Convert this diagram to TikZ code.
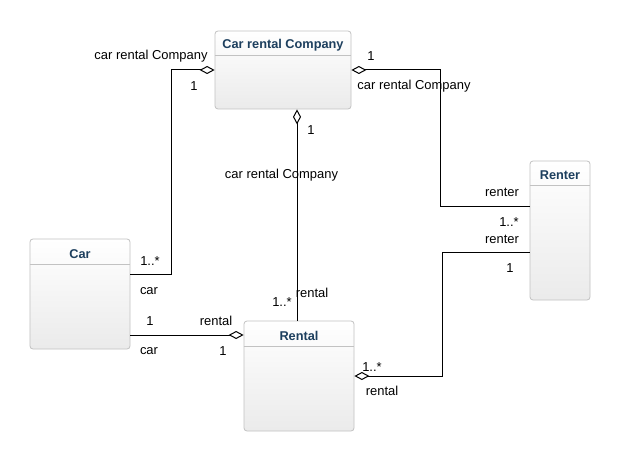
\documentclass[tikz,border=0pt]{standalone}
\usepackage{fontspec}
\setmainfont{Liberation Sans}
\usetikzlibrary{arrows.meta,positioning}
\definecolor{umlblue}{HTML}{1D3F5E}
\definecolor{umlborder}{HTML}{C2C2C2}
\tikzset{
  cls/.style={draw=umlborder, line width=0.8bp, rounded corners=3bp,
    top color=white, bottom color=gray!16, inner sep=0pt},
  clsname/.style={text=umlblue, font=\fontsize{12.8}{15}\selectfont\bfseries},
  role/.style={font=\fontsize{13}{15}\selectfont, inner sep=0pt},
  assoc/.style={line width=1bp},
  agg/.style={assoc, {Diamond[open, length=15bp, width=8bp, fill=white]}-},
}
\begin{document}
\begin{tikzpicture}[x=1bp, y=-1bp]
  \useasboundingbox[fill=white] (0,0) rectangle (620,461);

  % classes
  \node[cls, minimum width=136bp, minimum height=78bp] (company) at (283,70) {};
  \node[cls, minimum width=100bp, minimum height=110bp] (car) at (80,294) {};
  \node[cls, minimum width=110bp, minimum height=110bp] (rental) at (299,376) {};
  \node[cls, minimum width=60bp, minimum height=139bp] (renter) at (560,230.5) {};

  \draw[umlborder, line width=0.8bp] ([yshift=-25bp]company.north west) -- ([yshift=-25bp]company.north east);
  \draw[umlborder, line width=0.8bp] ([yshift=-26bp]car.north west) -- ([yshift=-26bp]car.north east);
  \draw[umlborder, line width=0.8bp] ([yshift=-26bp]rental.north west) -- ([yshift=-26bp]rental.north east);
  \draw[umlborder, line width=0.8bp] ([yshift=-25bp]renter.north west) -- ([yshift=-25bp]renter.north east);

  \node[clsname] (companyname) at (283,45) {Car rental Company};
  \node[clsname] (carname) at (80,254) {Car};
  \node[clsname] (rentalname) at (299,336) {Rental};
  \node[clsname] (rentername) at (560,175) {Renter};

  % associations
  \draw[agg] (company.west) -- ++(-43,0) |- ([yshift=19bp]car.east);
  \draw[agg] ([xshift=14bp]company.south) -- ([xshift=14bp]company.south |- rental.north);
  \draw[agg] (company.east) -- ++(89,0) |- ([yshift=24bp]renter.west);
  \draw[agg] ([yshift=41bp]rental.west) -- ([yshift=41bp]rental.west -| car.east);
  \draw[agg] (rental.east) -- ++(88,0) |- ([yshift=-22bp]renter.west);

  % roles and multiplicities
  \node[role] (r1) at (151,56) {car rental Company};
  \node[role] (m1) at (194,86) {1};
  \node[role] (m2) at (150,261) {1..*};
  \node[role] (r2) at (149,291) {car};

  \node[role] (m3) at (311,130) {1};
  \node[role] (r3) at (281.5,175) {car rental Company};
  \node[role] (m4) at (282,302) {1..*};
  \node[role] (r4) at (312,293) {rental};

  \node[role] (m5) at (371,56) {1};
  \node[role] (r5) at (414,86) {car rental Company};
  \node[role] (r6) at (502,192) {renter};
  \node[role] (m6) at (509,222) {1..*};

  \node[role] (m7) at (150,321) {1};
  \node[role] (r7) at (149,351) {car};
  \node[role] (r8) at (216,321) {rental};
  \node[role] (m8) at (223,351) {1};

  \node[role] (m9) at (372,367) {1..*};
  \node[role] (r9) at (382,391) {rental};
  \node[role] (r10) at (502,239) {renter};
  \node[role] (m10) at (510,268) {1};
\end{tikzpicture}
\end{document}
